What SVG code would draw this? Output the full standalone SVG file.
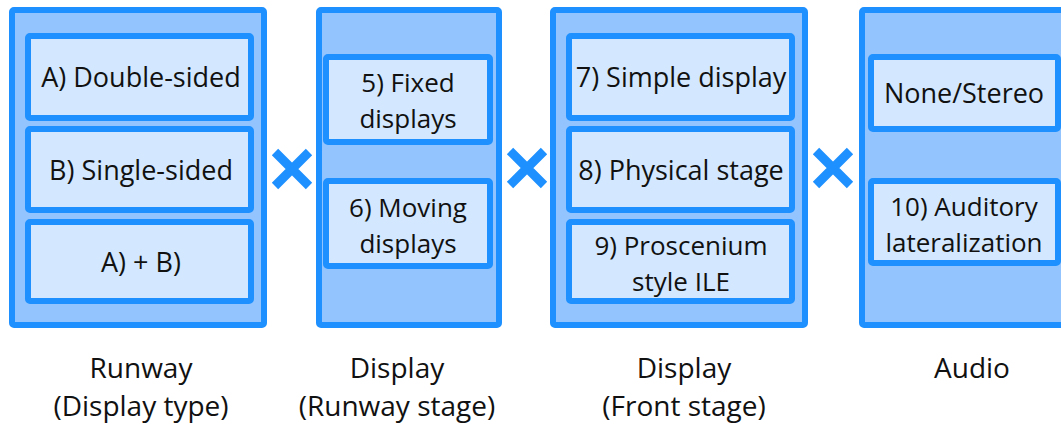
<svg xmlns="http://www.w3.org/2000/svg" width="1061" height="425" viewBox="0 0 1061 425">
  <style>
    .outer { fill: #93C4FD; stroke: #1E90FF; stroke-width: 6; }
    .inner { fill: #D3E8FE; stroke: #1E90FF; stroke-width: 6; }
    .t { font-family: "Open Sans", "Noto Sans", "Liberation Sans", sans-serif; font-size: 27px; fill: #111; text-anchor: middle; }
    .t2 { font-family: "Open Sans", "Noto Sans", "Liberation Sans", sans-serif; font-size: 26px; fill: #111; text-anchor: middle; }
    .cap { font-family: "Open Sans", "Noto Sans", "Liberation Sans", sans-serif; font-size: 28px; fill: #111; text-anchor: middle; }
    .times { stroke: #1E90FF; stroke-width: 9; fill: none; }
  </style>
  <rect width="1061" height="425" fill="#ffffff"/>

  <!-- Column 1: runway display type -->
  <g id="col-runway">
    <rect class="outer" x="12" y="10" width="252" height="315" rx="2"/>
    <g id="node-a">
      <rect class="inner" x="28" y="36" width="223" height="82" rx="2"/>
      <text class="t" x="141" y="87">A) Double-sided</text>
    </g>
    <g id="node-b">
      <rect class="inner" x="28" y="129" width="223" height="81" rx="2"/>
      <text class="t" x="141" y="180">B) Single-sided</text>
    </g>
    <g id="node-ab">
      <rect class="inner" x="28" y="222" width="223" height="79" rx="2"/>
      <text class="t" x="141" y="272">A) + B)</text>
    </g>
  </g>

  <!-- Column 2: runway stage displays -->
  <g id="col-runway-stage">
    <rect class="outer" x="319" y="10" width="180" height="315" rx="2"/>
    <g id="node-5">
      <rect class="inner" x="326" y="57" width="164" height="85" rx="2"/>
      <text class="t2" x="408" y="92">5) Fixed</text>
      <text class="t2" x="408" y="128">displays</text>
    </g>
    <g id="node-6">
      <rect class="inner" x="326" y="181" width="164" height="85" rx="2"/>
      <text class="t2" x="408" y="217">6) Moving</text>
      <text class="t2" x="408" y="253">displays</text>
    </g>
  </g>

  <!-- Column 3: front stage displays -->
  <g id="col-front-stage">
    <rect class="outer" x="553" y="10" width="252" height="315" rx="2"/>
    <g id="node-7">
      <rect class="inner" x="569" y="36" width="223" height="82" rx="2"/>
      <text class="t" x="681" y="87">7) Simple display</text>
    </g>
    <g id="node-8">
      <rect class="inner" x="569" y="129" width="223" height="81" rx="2"/>
      <text class="t" x="681" y="180">8) Physical stage</text>
    </g>
    <g id="node-9">
      <rect class="inner" x="569" y="222" width="223" height="79" rx="2"/>
      <text class="t2" x="681" y="255">9) Proscenium</text>
      <text class="t2" x="681" y="291">style ILE</text>
    </g>
  </g>

  <!-- Column 4: audio -->
  <g id="col-audio">
    <rect class="outer" x="862" y="10" width="260" height="315" rx="2"/>
    <g id="node-stereo">
      <rect class="inner" x="871" y="57" width="187" height="72" rx="2"/>
      <text class="t" x="964" y="103">None/Stereo</text>
    </g>
    <g id="node-10">
      <rect class="inner" x="871" y="181" width="187" height="82" rx="2"/>
      <text class="t2" x="964" y="216">10) Auditory</text>
      <text class="t2" x="964" y="252">lateralization</text>
    </g>
  </g>

  <!-- Cross-product operators between columns -->
  <g id="connectors">
    <path class="times" d="M275,152 L309,186 M309,152 L275,186"/>
    <path class="times" d="M510,151 L544,185 M544,151 L510,185"/>
    <path class="times" d="M816,151 L850,185 M850,151 L816,185"/>
  </g>

  <!-- Column captions -->
  <g id="captions">
    <text class="cap" x="141" y="378">Runway</text>
    <text class="cap" x="141" y="416">(Display type)</text>
    <text class="cap" x="397" y="378">Display</text>
    <text class="cap" x="397" y="416">(Runway stage)</text>
    <text class="cap" x="684" y="378">Display</text>
    <text class="cap" x="684" y="416">(Front stage)</text>
    <text class="cap" x="972" y="378">Audio</text>
  </g>
</svg>
